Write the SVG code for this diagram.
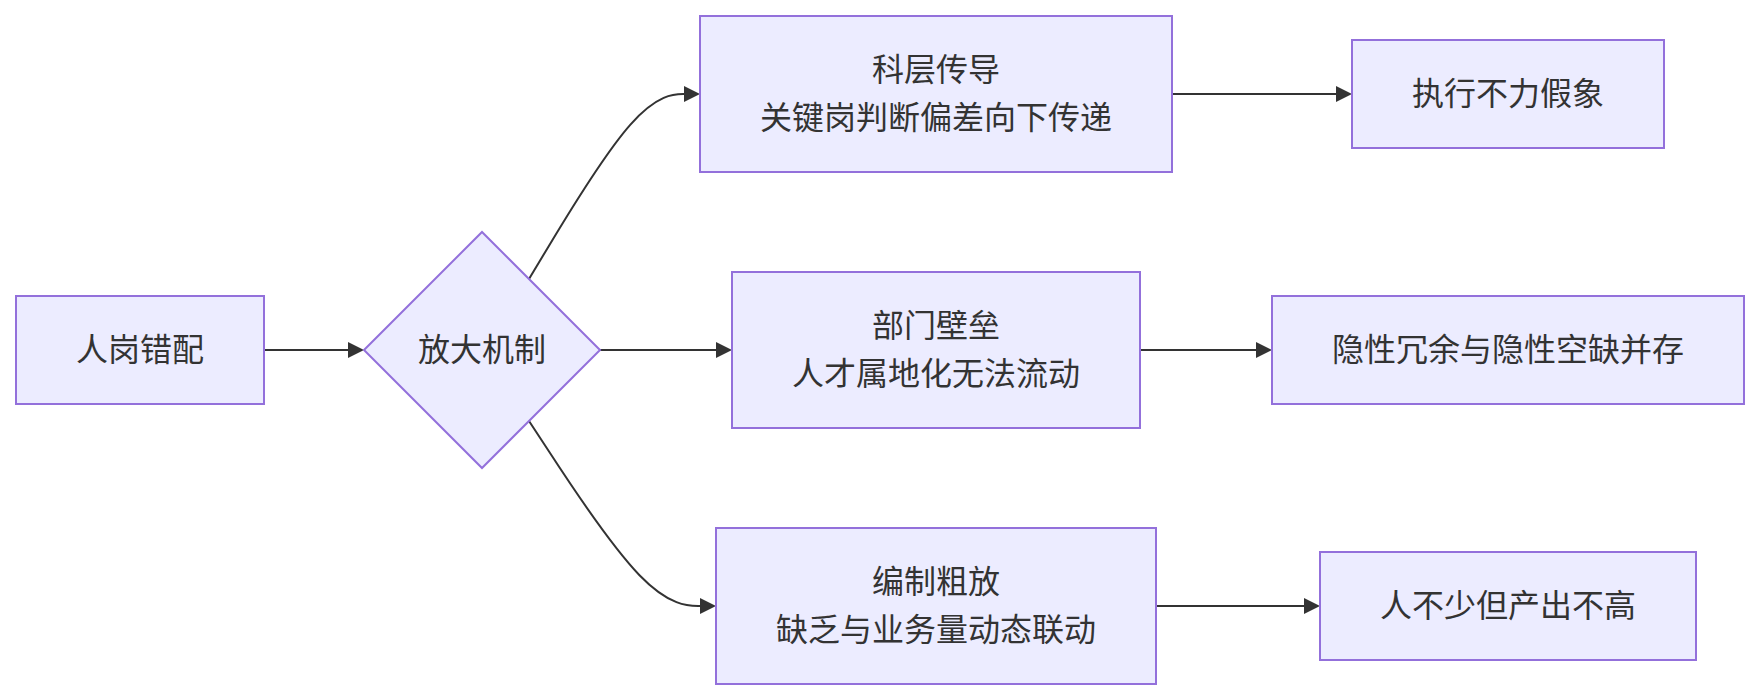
<svg xmlns="http://www.w3.org/2000/svg" width="1760" height="700" viewBox="0 0 1760 700">
<style>
.node rect, .node polygon { fill: #ECECFF; stroke: #9370DB; stroke-width: 2; }
.node text { font-family: "Noto Sans CJK SC", "Noto Sans", sans-serif; font-size: 32px; fill: #333333; text-anchor: middle; }
.edges path { fill: none; stroke: #333333; stroke-width: 2; }
</style>
<defs>
<marker id="arrow" viewBox="0 0 10 10" refX="5" refY="5" markerUnits="userSpaceOnUse" markerWidth="16" markerHeight="16" orient="auto">
<path d="M0,0 L10,5 L0,10 z" fill="#333333"/>
</marker>
</defs>
<rect width="1760" height="700" fill="#ffffff"/>
<g class="edges">
<path d="M264,350 L356,350" marker-end="url(#arrow)"/>
<path d="M529,279 L547.5,248.2 C566,217.3 603,155.7 630.2,124.8 C657.3,94 674.7,94 683.3,94 L692,94" marker-end="url(#arrow)"/>
<path d="M600,350 L724,350" marker-end="url(#arrow)"/>
<path d="M529,421 L549.2,451.8 C569.3,482.7 609.7,544.3 639.5,575.2 C669.3,606 688.7,606 698.3,606 L708,606" marker-end="url(#arrow)"/>
<path d="M1172,94 L1344,94" marker-end="url(#arrow)"/>
<path d="M1140,350 L1264,350" marker-end="url(#arrow)"/>
<path d="M1156,606 L1312,606" marker-end="url(#arrow)"/>
</g>
<g id="A" class="node">
<rect x="16" y="296" width="248" height="108"/>
<text x="140" y="361">人岗错配</text>
</g>
<g id="M" class="node">
<polygon points="364,350 482,232 600,350 482,468"/>
<text x="482" y="361">放大机制</text>
</g>
<g id="B" class="node">
<rect x="700" y="16" width="472" height="156"/>
<text x="936" y="81">科层传导</text>
<text x="936" y="129">关键岗判断偏差向下传递</text>
</g>
<g id="C" class="node">
<rect x="732" y="272" width="408" height="156"/>
<text x="936" y="337">部门壁垒</text>
<text x="936" y="385">人才属地化无法流动</text>
</g>
<g id="D" class="node">
<rect x="716" y="528" width="440" height="156"/>
<text x="936" y="593">编制粗放</text>
<text x="936" y="641">缺乏与业务量动态联动</text>
</g>
<g id="E" class="node">
<rect x="1352" y="40" width="312" height="108"/>
<text x="1508" y="105">执行不力假象</text>
</g>
<g id="F" class="node">
<rect x="1272" y="296" width="472" height="108"/>
<text x="1508" y="361">隐性冗余与隐性空缺并存</text>
</g>
<g id="G" class="node">
<rect x="1320" y="552" width="376" height="108"/>
<text x="1508" y="617">人不少但产出不高</text>
</g>
</svg>
